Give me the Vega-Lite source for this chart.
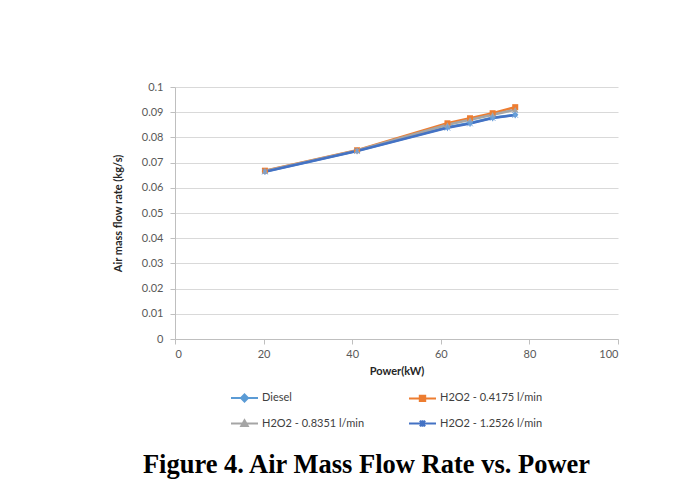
{
  "$schema": "https://vega.github.io/schema/vega-lite/v6.json",
  "width": 443,
  "height": 252,
  "autosize": {"type": "none"},
  "padding": {"left": 175, "top": 87, "right": 74, "bottom": 155},
  "background": "white",
  "config": {"view": {"stroke": null}, "font": "Lato"},
  "title": {
    "text": "Figure 4. Air Mass Flow Rate vs. Power",
    "orient": "bottom",
    "anchor": "middle",
    "frame": "group",
    "font": "Liberation Serif",
    "fontSize": 26.5,
    "fontWeight": "bold",
    "color": "black",
    "offset": 21,
    "dx": -30
  },
  "data": {
    "values": [
      {"power": 20.3, "flow": 0.0665, "series": "Diesel"},
      {"power": 41.1, "flow": 0.0747, "series": "Diesel"},
      {"power": 61.5, "flow": 0.0840, "series": "Diesel"},
      {"power": 66.6, "flow": 0.0857, "series": "Diesel"},
      {"power": 71.7, "flow": 0.0878, "series": "Diesel"},
      {"power": 76.8, "flow": 0.0890, "series": "Diesel"},
      {"power": 20.3, "flow": 0.0668, "series": "H2O2 - 0.4175 l/min"},
      {"power": 41.1, "flow": 0.0749, "series": "H2O2 - 0.4175 l/min"},
      {"power": 61.5, "flow": 0.0856, "series": "H2O2 - 0.4175 l/min"},
      {"power": 66.6, "flow": 0.0876, "series": "H2O2 - 0.4175 l/min"},
      {"power": 71.7, "flow": 0.0896, "series": "H2O2 - 0.4175 l/min"},
      {"power": 76.8, "flow": 0.0920, "series": "H2O2 - 0.4175 l/min"},
      {"power": 20.3, "flow": 0.0667, "series": "H2O2 - 0.8351 l/min"},
      {"power": 41.1, "flow": 0.0748, "series": "H2O2 - 0.8351 l/min"},
      {"power": 61.5, "flow": 0.0850, "series": "H2O2 - 0.8351 l/min"},
      {"power": 66.6, "flow": 0.0870, "series": "H2O2 - 0.8351 l/min"},
      {"power": 71.7, "flow": 0.0890, "series": "H2O2 - 0.8351 l/min"},
      {"power": 76.8, "flow": 0.0910, "series": "H2O2 - 0.8351 l/min"},
      {"power": 20.3, "flow": 0.0664, "series": "H2O2 - 1.2526 l/min"},
      {"power": 41.1, "flow": 0.0746, "series": "H2O2 - 1.2526 l/min"},
      {"power": 61.5, "flow": 0.0838, "series": "H2O2 - 1.2526 l/min"},
      {"power": 66.6, "flow": 0.0855, "series": "H2O2 - 1.2526 l/min"},
      {"power": 71.7, "flow": 0.0877, "series": "H2O2 - 1.2526 l/min"},
      {"power": 76.8, "flow": 0.0889, "series": "H2O2 - 1.2526 l/min"}
    ]
  },
  "encoding": {
    "x": {
      "field": "power",
      "type": "quantitative",
      "scale": {"domain": [0, 100], "nice": false},
      "axis": {
        "values": [0, 20, 40, 60, 80, 100],
        "grid": false,
        "title": "Power(kW)",
        "titleFontWeight": "bold",
        "titleFontSize": 11,
        "titleColor": "#262626",
        "labelFontSize": 11,
        "labelColor": "#595959",
        "domainColor": "#BFBFBF",
        "tickColor": "#BFBFBF",
        "tickSize": 5,
        "labelPadding": 4,
        "titlePadding": 6
      }
    },
    "y": {
      "field": "flow",
      "type": "quantitative",
      "scale": {"domain": [0, 0.1], "nice": false},
      "axis": {
        "values": [0, 0.01, 0.02, 0.03, 0.04, 0.05, 0.06, 0.07, 0.08, 0.09, 0.1],
        "format": ".2~f",
        "grid": true,
        "gridColor": "#D9D9D9",
        "title": "Air mass flow rate (kg/s)",
        "titleFontWeight": "bold",
        "titleFontSize": 11,
        "titleColor": "#262626",
        "labelFontSize": 11,
        "labelColor": "#595959",
        "domainColor": "#BFBFBF",
        "tickColor": "#BFBFBF",
        "tickSize": 5,
        "labelPadding": 7,
        "titlePadding": 18
      }
    },
    "color": {
      "field": "series",
      "type": "nominal",
      "scale": {
        "domain": ["Diesel", "H2O2 - 0.4175 l/min", "H2O2 - 0.8351 l/min", "H2O2 - 1.2526 l/min"],
        "range": ["#5B9BD5", "#ED7D31", "#A5A5A5", "#4472C4"]
      },
      "legend": {
        "title": null,
        "orient": "none",
        "legendX": 55,
        "legendY": 296,
        "direction": "horizontal",
        "columns": 2,
        "symbolType": "stroke",
        "symbolSize": 729,
        "symbolStrokeWidth": 2,
        "labelFontSize": 11,
        "labelColor": "#404040",
        "labelOffset": 3,
        "columnPadding": 40,
        "rowPadding": 3,
        "encode": {
          "symbols": {
            "update": {
              "shape": {"signal": "datum.value === 'Diesel' ? 'M-1,0H1M0,-0.26L0.26,0L0,0.26L-0.26,0Z' : datum.value === 'H2O2 - 0.4175 l/min' ? 'M-1,0H1M-0.2,-0.2H0.2V0.2H-0.2Z' : datum.value === 'H2O2 - 0.8351 l/min' ? 'M-1,0H1M0,-0.24L0.24,0.18L-0.24,0.18Z' : 'M-1,0H1M-0.2,-0.2L0.2,0.2M-0.2,0.2L0.2,-0.2M0,-0.24V0.24'"},
              "fill": {"signal": "scale('color', datum.value)"}
            }
          }
        }
      }
    }
  },
  "layer": [
    {
      "mark": {"type": "line", "strokeWidth": 2.5}
    },
    {
      "transform": [{"filter": "datum.series === 'Diesel'"}],
      "mark": {"type": "point", "shape": "diamond", "filled": true, "size": 40, "opacity": 1}
    },
    {
      "transform": [{"filter": "datum.series === 'H2O2 - 0.4175 l/min'"}],
      "mark": {"type": "point", "shape": "square", "filled": true, "size": 36, "opacity": 1}
    },
    {
      "transform": [{"filter": "datum.series === 'H2O2 - 0.8351 l/min'"}],
      "mark": {"type": "point", "shape": "triangle-up", "filled": true, "size": 36, "opacity": 1}
    },
    {
      "transform": [{"filter": "datum.series === 'H2O2 - 1.2526 l/min'"}],
      "mark": {"type": "point", "shape": "M-1,-1L1,1M-1,1L1,-1M0,-1.2V1.2", "filled": false, "size": 30, "strokeWidth": 1, "stroke": "#6FA0DC", "opacity": 1}
    }
  ]
}
